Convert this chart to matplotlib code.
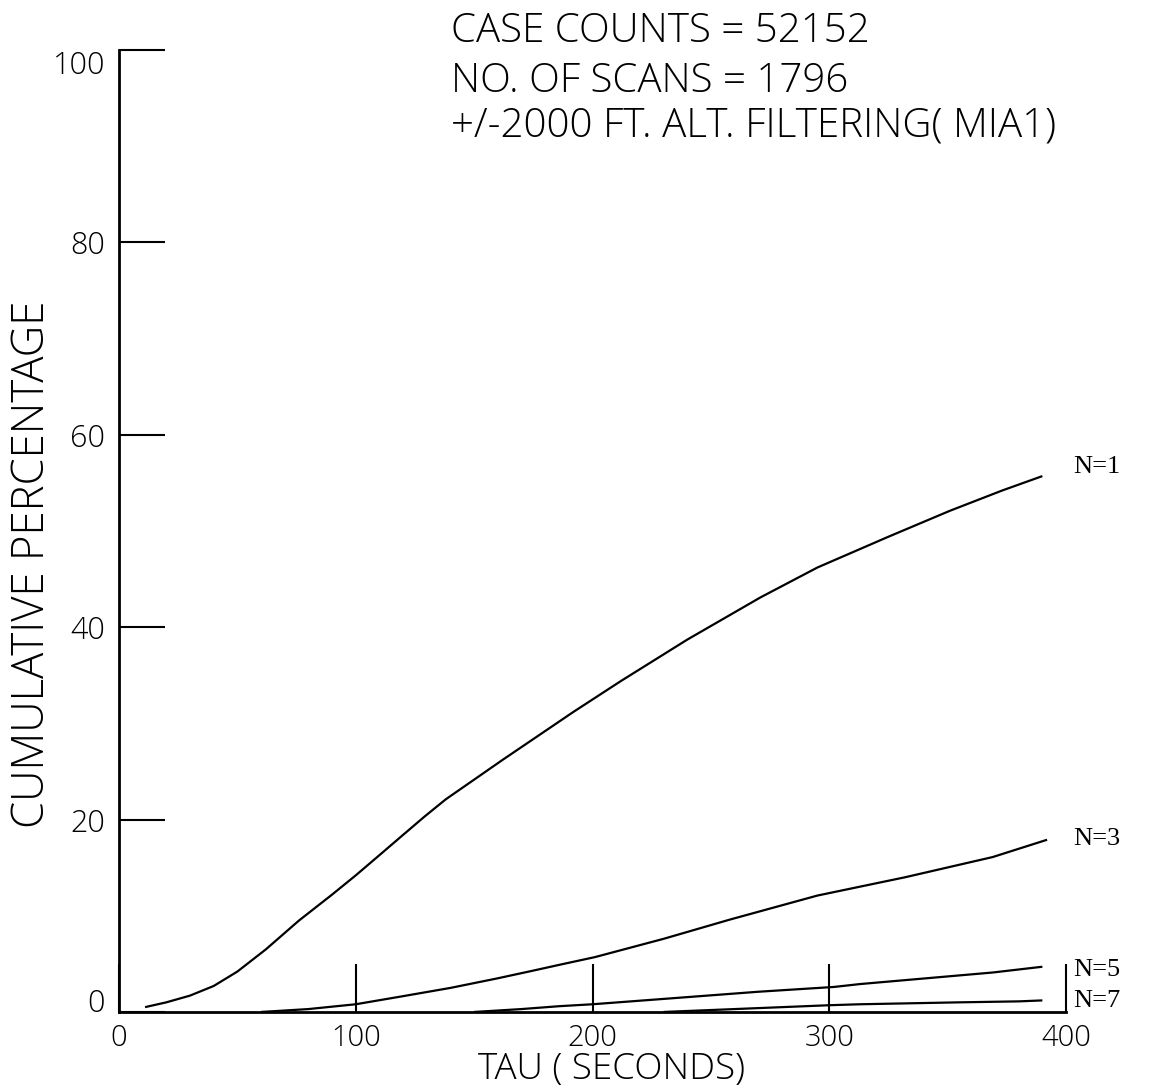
import matplotlib
matplotlib.use("Agg")
import matplotlib.pyplot as plt

# values
tau_n1 = [11, 20, 30, 40, 50, 62, 76, 90, 100, 110, 119, 129, 138, 162, 192, 212, 240, 271, 295, 325, 351, 373, 390]
pct_n1 = [0.5, 1.0, 1.7, 2.7, 4.2, 6.5, 9.5, 12.2, 14.2, 16.3, 18.2, 20.3, 22.1, 26.2, 31.2, 34.4, 38.7, 43.1, 46.2, 49.4, 52.1, 54.2, 55.7]

tau_n3 = [60, 80, 100, 119, 140, 160, 175, 186, 201, 230, 258, 295, 332, 369, 392]
pct_n3 = [0.0, 0.3, 0.8, 1.6, 2.5, 3.5, 4.3, 4.9, 5.7, 7.6, 9.6, 12.1, 14.0, 16.1, 17.9]

tau_n5 = [150, 170, 186, 200, 227, 270, 302, 313, 341, 369, 390]
pct_n5 = [0.0, 0.3, 0.6, 0.8, 1.3, 2.1, 2.6, 2.9, 3.5, 4.1, 4.7]

tau_n7 = [230, 260, 300, 313, 355, 380, 390]
pct_n7 = [0.0, 0.3, 0.7, 0.8, 1.0, 1.1, 1.2]

curve_names = ["N=1", "N=3", "N=5", "N=7"]
label_y = [56.6, 18.0, 4.4, 1.1]

x_ticks = [0, 100, 200, 300, 400]
y_ticks = [0, 20, 40, 60, 80, 100]

header = ["CASE COUNTS = 52152",
          "NO. OF SCANS = 1796",
          "+/-2000 FT. ALT. FILTERING( MIA1)"]

# thin sans to look a bit like the pen plotter lettering
plt.rcParams["font.family"] = ["Open Sans", "Roboto", "DejaVu Sans"]
plt.rcParams["font.weight"] = "light"

fig = plt.figure(figsize=(11.61, 10.90), dpi=100)
ax = fig.add_axes([0.1025, 0.0716, 0.8157, 0.8826])

for xs, ys in [(tau_n1, pct_n1), (tau_n3, pct_n3), (tau_n5, pct_n5), (tau_n7, pct_n7)]:
    ax.plot(xs, ys, color="black", lw=1.6, solid_capstyle="butt")

# curve labels to the right of the ends, typewriter style
for name, yy in zip(curve_names, label_y):
    ax.text(403, yy, name, fontsize=19, family=["Liberation Serif", "DejaVu Serif"],
            fontweight="normal", ha="left", va="center", clip_on=False)

ax.set_xlim(0, 400)
ax.set_ylim(0, 100)
ax.spines["top"].set_visible(False)
ax.spines["right"].set_visible(False)
ax.spines["left"].set_linewidth(2)
ax.spines["bottom"].set_linewidth(2)

ax.set_xticks(x_ticks)
ax.set_xticklabels([str(v) for v in x_ticks])
ax.set_yticks(y_ticks)
ax.set_yticklabels([str(v) for v in y_ticks])
ax.tick_params(axis="x", direction="in", length=34.5, width=1.5, pad=8, labelsize=21)
ax.tick_params(axis="y", direction="in", length=33, width=1.5, pad=10, labelsize=22)

# the plotter put the 100 label under its tick and 0 a bit above the axis
yt = ax.yaxis.get_major_ticks()
yt[-1].label1.set_va("top")
yt[0].label1.set_va("baseline")

ax.text(-0.0908, 0.465, "CUMULATIVE PERCENTAGE", transform=ax.transAxes,
        rotation=90, ha="center", va="center", fontsize=31.5)
ax.text(0.52, -0.0595, "TAU ( SECONDS)", transform=ax.transAxes,
        ha="center", va="center", fontsize=26.5)

for line, yy in zip(header, [1.0187, 0.9667, 0.921]):
    ax.text(0.3506, yy, line, transform=ax.transAxes, ha="left", va="center",
            fontsize=29, clip_on=False)

fig.savefig("out.png", dpi=100, facecolor="white")
